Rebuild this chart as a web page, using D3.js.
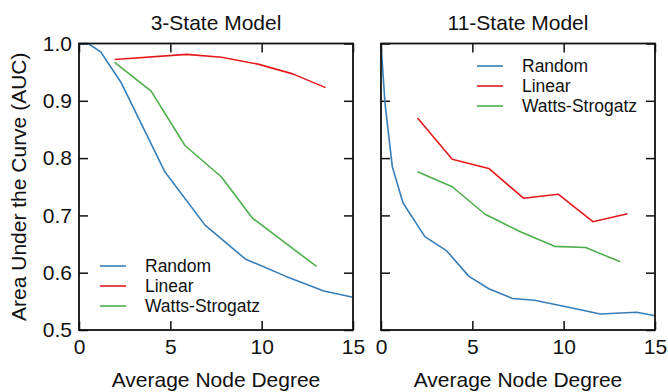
<!DOCTYPE html>
<html>
<head>
<meta charset="utf-8">
<script src="https://cdn.jsdelivr.net/npm/d3@7"></script>
<style>
  body { margin: 0; background: #fff; }
  svg text { font-family: "Liberation Sans", Arial, sans-serif; fill: #111; }
</style>
</head>
<body>
<div id="chart"></div>
<script>
// panel titles and series names
const panelTitles = ["3-State Model", "11-State Model"];
const seriesNames = ["Random", "Linear", "Watts-Strogatz"];
const seriesColors = ["#377eb8", "#e41a1c", "#4daf4a"];

// axis ticks
const xTicks = [0, 5, 10, 15];
const yTicks = [0.5, 0.6, 0.7, 0.8, 0.9, 1.0];

// 3-state model
const s3RandomDeg = [0, 0.5, 1.2, 2.3, 4.7, 6.9, 9.1, 11.3, 13.4, 15];
const s3RandomAuc = [1.0, 1.0, 0.985, 0.932, 0.776, 0.683, 0.624, 0.594, 0.568, 0.557];
const s3LinearDeg = [1.95, 5.9, 7.8, 9.8, 11.7, 13.5];
const s3LinearAuc = [0.972, 0.981, 0.976, 0.964, 0.947, 0.923];
const s3WattsDeg = [1.95, 3.95, 5.8, 7.8, 9.5, 13.0];
const s3WattsAuc = [0.967, 0.917, 0.822, 0.767, 0.695, 0.611];

// 11-state model
const s11RandomDeg = [0, 0.22, 0.62, 1.2, 2.4, 3.6, 4.8, 5.9, 7.2, 8.4, 10.2, 12.0, 14.0, 15];
const s11RandomAuc = [1.0, 0.895, 0.785, 0.722, 0.663, 0.638, 0.594, 0.572, 0.555, 0.552, 0.540, 0.528, 0.531, 0.525];
const s11LinearDeg = [2.0, 3.9, 5.9, 7.8, 9.7, 11.6, 13.5];
const s11LinearAuc = [0.870, 0.798, 0.782, 0.730, 0.737, 0.689, 0.703];
const s11WattsDeg = [2.0, 3.9, 5.7, 7.6, 9.5, 11.2, 13.1];
const s11WattsAuc = [0.776, 0.750, 0.702, 0.672, 0.646, 0.644, 0.619];

const zip = (xs, ys) => xs.map((x, i) => ({ x: x, y: ys[i] }));

const panels = [
  {
    title: panelTitles[0],
    series: [zip(s3RandomDeg, s3RandomAuc), zip(s3LinearDeg, s3LinearAuc), zip(s3WattsDeg, s3WattsAuc)],
    left: 79, showY: true,
    legend: { x: 100, y: 266 }
  },
  {
    title: panelTitles[1],
    series: [zip(s11RandomDeg, s11RandomAuc), zip(s11LinearDeg, s11LinearAuc), zip(s11WattsDeg, s11WattsAuc)],
    left: 381, showY: false,
    legend: { x: 477, y: 66 }
  }
];

const width = 668, height = 392;
const plotW = 274, plotTop = 43.5, plotBottom = 330;
const tickLen = 9;

const svg = d3.select("#chart").append("svg")
  .attr("width", width)
  .attr("height", height);

const y = d3.scaleLinear().domain([0.5, 1.0]).range([plotBottom, plotTop]);

panels.forEach(p => {
  const x = d3.scaleLinear().domain([0, 15]).range([p.left, p.left + plotW]);
  const g = svg.append("g");

  // inward ticks on all four sides
  const bottomAx = g.append("g")
    .attr("transform", `translate(0,${plotBottom})`)
    .call(d3.axisBottom(x).tickValues(xTicks).tickSizeInner(-tickLen).tickSizeOuter(0).tickPadding(9));
  const topAx = g.append("g")
    .attr("transform", `translate(0,${plotTop})`)
    .call(d3.axisTop(x).tickValues(xTicks).tickSizeInner(-tickLen).tickSizeOuter(0).tickFormat(""));
  const leftAx = g.append("g")
    .attr("transform", `translate(${p.left},0)`)
    .call(d3.axisLeft(y).tickValues(yTicks).tickSizeInner(-tickLen).tickSizeOuter(0).tickPadding(7)
      .tickFormat(p.showY ? d3.format(".1f") : ""));
  const rightAx = g.append("g")
    .attr("transform", `translate(${p.left + plotW},0)`)
    .call(d3.axisRight(y).tickValues(yTicks).tickSizeInner(-tickLen).tickSizeOuter(0).tickFormat(""));

  [bottomAx, topAx, leftAx, rightAx].forEach(ax => {
    ax.select(".domain").remove();
    ax.selectAll(".tick line").attr("stroke", "#111").attr("stroke-width", 1.5);
    ax.selectAll(".tick text").attr("font-size", "21px").attr("fill", "#111")
      .style("font-family", "'Liberation Sans', Arial, sans-serif");
  });

  // series lines
  const line = d3.line().x(d => x(d.x)).y(d => y(d.y));
  p.series.forEach((data, i) => {
    g.append("path")
      .datum(data)
      .attr("fill", "none")
      .attr("stroke", seriesColors[i])
      .attr("stroke-width", 1.6)
      .attr("stroke-linejoin", "round")
      .attr("d", line);
  });

  // frame
  g.append("rect")
    .attr("x", p.left).attr("y", plotTop)
    .attr("width", plotW).attr("height", plotBottom - plotTop)
    .attr("fill", "none")
    .attr("stroke", "#111")
    .attr("stroke-width", 1.8);

  // title
  g.append("text")
    .attr("x", p.left + plotW / 2)
    .attr("y", 30)
    .attr("text-anchor", "middle")
    .attr("font-size", "21px")
    .text(p.title);

  // x axis label
  g.append("text")
    .attr("x", p.left + plotW / 2)
    .attr("y", 387)
    .attr("text-anchor", "middle")
    .attr("font-size", "21px")
    .text("Average Node Degree");

  // legend
  const legend = g.append("g").attr("transform", `translate(${p.legend.x},${p.legend.y})`);
  seriesNames.forEach((name, i) => {
    legend.append("line")
      .attr("x1", 0).attr("x2", 26)
      .attr("y1", i * 20).attr("y2", i * 20)
      .attr("stroke", seriesColors[i])
      .attr("stroke-width", 1.6);
    legend.append("text")
      .attr("x", 45)
      .attr("y", i * 20)
      .attr("dy", "0.35em")
      .attr("font-size", "17.5px")
      .text(name);
  });
});

// y axis label
svg.append("text")
  .attr("transform", `translate(26,${(plotTop + plotBottom) / 2}) rotate(-90)`)
  .attr("text-anchor", "middle")
  .attr("font-size", "21px")
  .text("Area Under the Curve (AUC)");
</script>
</body>
</html>
